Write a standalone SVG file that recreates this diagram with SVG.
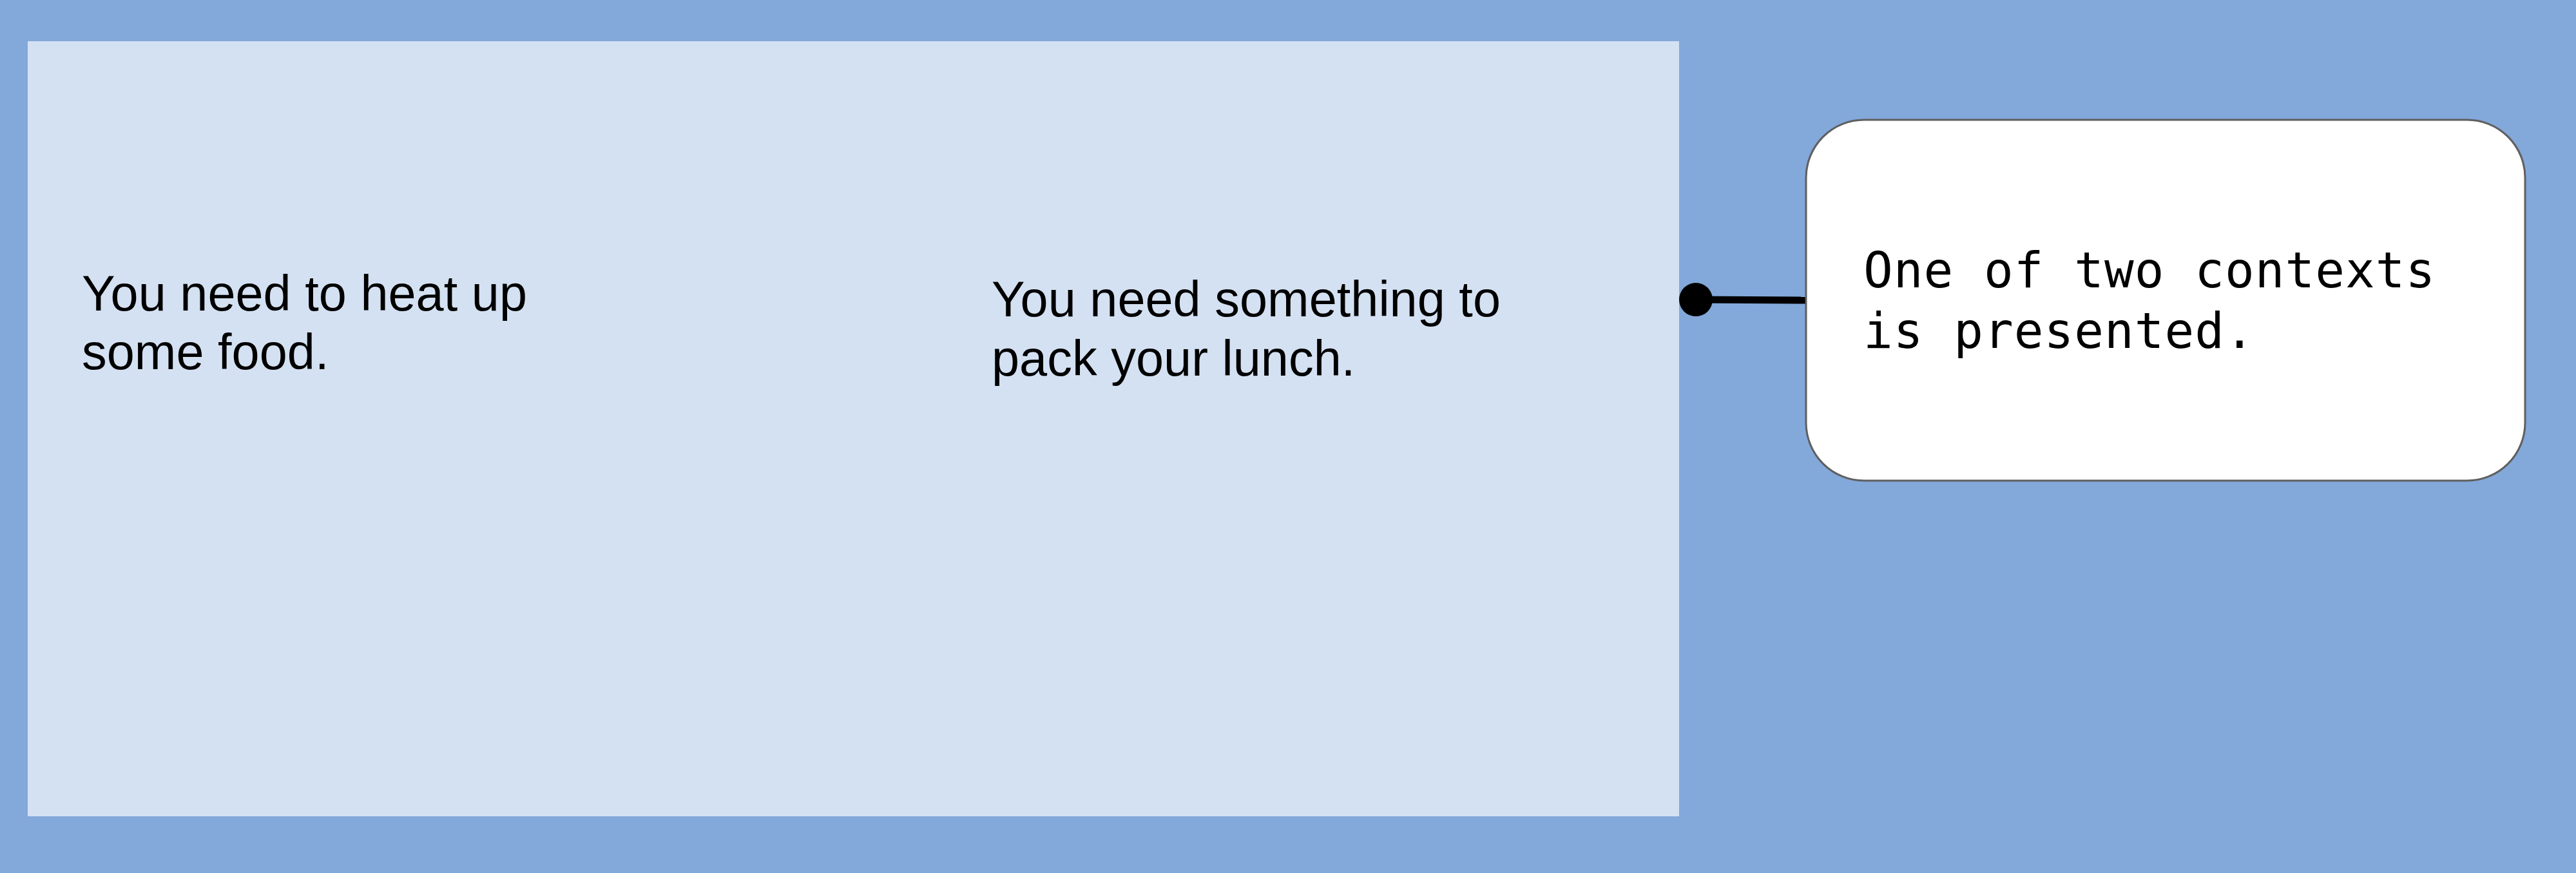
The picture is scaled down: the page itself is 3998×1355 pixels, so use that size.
<svg xmlns="http://www.w3.org/2000/svg" width="3998" height="1355" viewBox="0 0 3998 1355">
<style>
.sans{font-family:"Liberation Sans",Arial,sans-serif;font-size:77.5px;fill:#000}
.mono{font-family:"DejaVu Sans Mono","Liberation Mono",monospace;font-size:76px;letter-spacing:1px;fill:#000}
</style>
<rect x="0" y="0" width="3998" height="1355" fill="#83a8da"/>
<g id="context-area">
<rect x="43" y="64" width="2563" height="1203" fill="#d4e1f2"/>
</g>
<g id="context-heat">
<text class="sans"><tspan x="127" y="482">You need to heat up</tspan><tspan x="127" y="573">some food.</tspan></text>
</g>
<g id="context-lunch">
<text class="sans"><tspan x="1539" y="491">You need something to</tspan><tspan x="1539" y="583">pack your lunch.</tspan></text>
</g>
<g id="connectors">
<line x1="2632" y1="465" x2="2803" y2="466" stroke="#000" stroke-width="11"/>
<circle cx="2632" cy="465" r="26" fill="#000"/>
</g>
<g id="note">
<rect x="2803" y="186" width="1116" height="560" rx="90" ry="90" fill="#fff" stroke="#5f5f5f" stroke-width="3"/>
<text class="mono"><tspan x="2892" y="446">One of two contexts</tspan><tspan x="2892" y="540">is presented.</tspan></text>
</g>
</svg>
